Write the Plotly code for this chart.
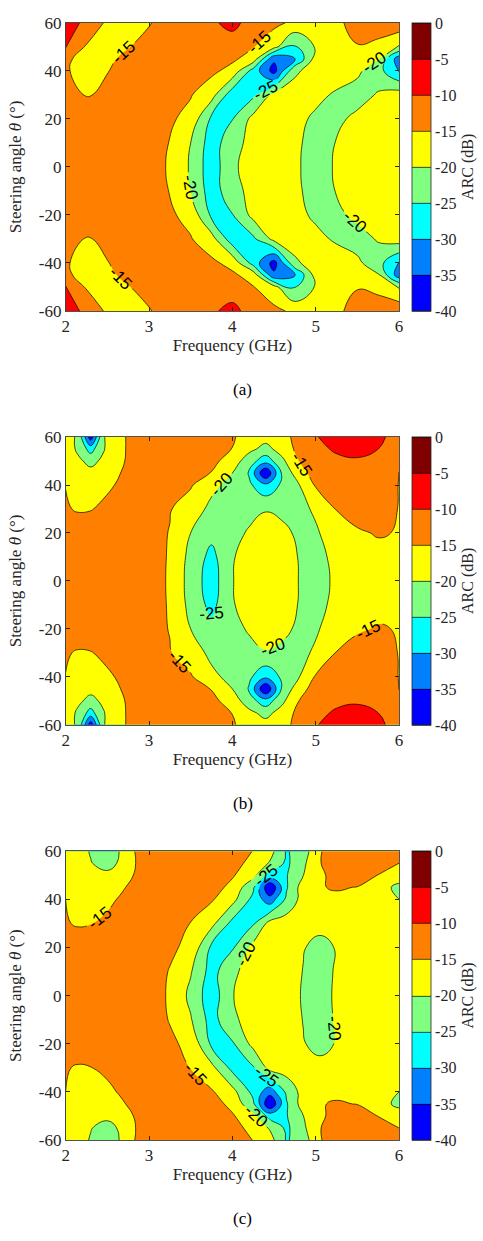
import plotly.graph_objects as go

# ---------------- data ----------------
FREQ_A = [2.0, 2.25, 2.5, 2.75, 3.0, 3.25, 3.5, 3.75, 4.0, 4.25, 4.5, 4.75, 5.0, 5.25, 5.5, 5.75, 6.0]
THETA_A = [-60, -50, -45, -40, -30, -20, -10, 0, 10, 20, 30, 40, 45, 50, 60]
ARC_A = [
    [-7, -11.5, -15.8, -16.5, -15.3, -13, -11.5, -10.5, -9, -11.5, -13.8, -16, -17.5, -15.8, -13.5, -13, -11.5],
    [-9.6, -15.5, -17, -15.2, -13.5, -12, -11, -11, -11.8, -14.8, -18.5, -26, -19.5, -16, -15.2, -16, -20.5],
    [-14.4, -16.2, -15.8, -14, -12.5, -11.5, -11.5, -12.2, -14.2, -17, -34, -30.5, -18, -16.5, -17, -19.5, -33],
    [-14.6, -16.5, -15.1, -13.5, -12.5, -12.3, -12.8, -14, -16.5, -27, -37, -21, -17.5, -17, -19, -23, -30.5],
    [-13.5, -15.2, -14.5, -13.5, -13.5, -14, -14.7, -18, -28, -26, -18.5, -17.5, -18.5, -20.8, -22.2, -19.5, -17.5],
    [-12.5, -13, -13.3, -13.5, -13.8, -14.3, -16.5, -26, -25.2, -18.5, -17.2, -18.3, -21, -21.2, -18.7, -17.5, -17],
    [-12.2, -12.5, -12.8, -13.2, -14, -15.1, -20, -27.5, -22, -18.2, -17.5, -19, -21.8, -19.8, -18, -17.2, -17],
    [-12, -12.3, -12.6, -13, -13.8, -15.3, -20.6, -28, -20.8, -18, -17.5, -19.2, -22, -19.5, -18, -17.2, -17],
    [-12.2, -12.5, -12.8, -13.2, -14, -15.1, -20, -27.5, -22, -18.2, -17.5, -19, -21.8, -19.8, -18, -17.2, -17],
    [-12.5, -13, -13.3, -13.5, -13.8, -14.3, -16.5, -26, -25.2, -18.5, -17.2, -18.3, -21, -21.2, -18.7, -17.5, -17],
    [-13.5, -15.2, -14.5, -13.5, -13.5, -14, -14.7, -18, -28, -26, -18.5, -17.5, -18.5, -20.8, -22.2, -19.5, -17.5],
    [-14.6, -16.5, -15.1, -13.5, -12.5, -12.3, -12.8, -14, -16.5, -27, -37, -21, -17.5, -17, -19, -23, -30.5],
    [-14.4, -16.2, -15.8, -14, -12.5, -11.5, -11.5, -12.2, -14.2, -17, -34, -30.5, -18, -16.5, -17, -19.5, -33],
    [-9.6, -15.5, -17, -15.2, -13.5, -12, -11, -11, -11.8, -14.8, -18.5, -26, -19.5, -16, -15.2, -16, -20.5],
    [-7, -11.5, -15.8, -16.5, -15.3, -13, -11.5, -10.5, -9, -11.5, -13.8, -16, -17.5, -15.8, -13.5, -13, -11.5],
]

FREQ_B = [2.0, 2.15, 2.3, 2.45, 2.6, 2.8, 3.0, 3.25, 3.5, 3.75, 4.0, 4.2, 4.4, 4.6, 4.8, 5.0, 5.25, 5.5, 5.75, 6.0]
THETA_B = [-60, -55, -50, -45, -40, -30, -20, -10, 0, 10, 20, 30, 40, 45, 50, 55, 60]
ARC_B = [
    [-17.5, -21, -38, -20.5, -16.5, -14, -12.8, -12, -11.8, -12.5, -14.5, -17, -18.3, -16.5, -13.5, -10.3, -8, -7.5, -9.2, -11.5],
    [-17, -21, -27, -20.5, -16.5, -14, -12.5, -11.5, -11.3, -12.5, -15.1, -18.8, -21.5, -18, -13.5, -11, -9.5, -9, -10, -13.5],
    [-16.5, -19, -21.5, -19, -16.2, -14, -12.5, -11.5, -11.7, -13.5, -17.5, -22.5, -28, -21, -15, -12, -10.8, -10.4, -11.2, -14.5],
    [-16, -17.5, -18.5, -17.5, -15.5, -13.8, -12.3, -11.8, -12.8, -15.2, -20, -25.5, -40, -24, -17, -13, -11.5, -11, -12, -15.05],
    [-15.1, -16, -16.5, -16, -14.9, -13.5, -12.5, -12.5, -14.5, -18.8, -21.5, -24, -29, -24, -20.2, -14.5, -12.5, -11.8, -12.8, -15.1],
    [-14.6, -15.4, -15.2, -14.3, -13.3, -12.8, -13, -14.7, -17.5, -21.2, -21.8, -21.5, -20.2, -20.8, -21.3, -19.3, -14.8, -13.3, -13.8, -15.1],
    [-12.3, -12.5, -12.5, -12.3, -12.2, -12.3, -13.2, -15.2, -20, -23.5, -21.5, -19.5, -18.6, -19.2, -20.6, -20.6, -17.5, -15.5, -14.7, -15.2],
    [-12, -12, -12, -11.9, -11.9, -12.1, -13, -15.4, -21.5, -26.5, -20.4, -18, -17.2, -18, -20.2, -21.2, -19, -17.2, -16.2, -15.8],
    [-12, -12, -12, -11.8, -11.8, -12, -13, -15.5, -22, -27.5, -20.2, -17.8, -17, -17.8, -20.1, -21.5, -19.3, -17.5, -16.5, -16],
    [-12, -12, -12, -11.9, -11.9, -12.1, -13, -15.4, -21.5, -26.5, -20.4, -18, -17.2, -18, -20.2, -21.2, -19, -17.2, -16.2, -15.8],
    [-12.3, -12.5, -12.5, -12.3, -12.2, -12.3, -13.2, -15.2, -20, -23.5, -21.5, -19.5, -18.6, -19.2, -20.6, -20.6, -17.5, -15.5, -14.7, -15.2],
    [-14.6, -15.4, -15.2, -14.3, -13.3, -12.8, -13, -14.7, -17.5, -21.2, -21.8, -21.5, -20.2, -20.8, -21.3, -19.3, -14.8, -13.3, -13.8, -15.1],
    [-15.1, -16, -16.5, -16, -14.9, -13.5, -12.5, -12.5, -14.5, -18.8, -21.5, -24, -29, -24, -20.2, -14.5, -12.5, -11.8, -12.8, -15.1],
    [-16, -17.5, -18.5, -17.5, -15.5, -13.8, -12.3, -11.8, -12.8, -15.2, -20, -25.5, -40, -24, -17, -13, -11.5, -11, -12, -15.05],
    [-16.5, -19, -21.5, -19, -16.2, -14, -12.5, -11.5, -11.7, -13.5, -17.5, -22.5, -28, -21, -15, -12, -10.8, -10.4, -11.2, -14.5],
    [-17, -21, -27, -20.5, -16.5, -14, -12.5, -11.5, -11.3, -12.5, -15.1, -18.8, -21.5, -18, -13.5, -11, -9.5, -9, -10, -13.5],
    [-17.5, -21, -38, -20.5, -16.5, -14, -12.8, -12, -11.8, -12.5, -14.5, -17, -18.3, -16.5, -13.5, -10.3, -8, -7.5, -9.2, -11.5],
]

FREQ_C = [2.0, 2.15, 2.3, 2.5, 2.65, 2.8, 3.0, 3.25, 3.5, 3.75, 4.0, 4.25, 4.45, 4.65, 4.85, 5.05, 5.25, 5.5, 5.75, 6.0]
THETA_C = [-60, -55, -50, -45, -40, -30, -20, -10, 0, 10, 20, 30, 40, 45, 50, 55, 60]
ARC_C = [
    [-17.5, -18.5, -20.3, -23.5, -19.8, -15.2, -13.8, -12.5, -11.8, -11.8, -13, -15.1, -18, -25.5, -22.5, -15.5, -11.5, -10.8, -11, -12.5],
    [-17, -18.5, -19.8, -21.5, -19.5, -15.3, -13.8, -12.5, -11.7, -11.8, -13.5, -16.3, -20.5, -26, -21, -15.2, -12.5, -12, -13, -15],
    [-16.5, -18, -19.3, -19, -17, -15.1, -13.8, -12.5, -11.8, -12.2, -14.5, -18.5, -27, -25.3, -20.1, -15.8, -13.5, -13.3, -15.1, -17],
    [-16, -17, -17.5, -17, -15.6, -14.3, -13.2, -12.3, -12, -13, -16.3, -24, -40, -25.5, -17.5, -15.2, -14.7, -15.1, -17.5, -21.5],
    [-15, -16, -16.6, -15.8, -14.7, -13.8, -13, -12.5, -12.9, -14.5, -18.3, -26.5, -33, -24, -18, -16.5, -15.7, -16, -17.5, -20],
    [-14.7, -15.4, -15.1, -14.2, -13.5, -13, -12.8, -13.3, -15.1, -18.5, -26.5, -25.6, -18.3, -17.5, -17.8, -19, -18.3, -17.8, -17.3, -17.5],
    [-12.5, -12.6, -12.6, -12.5, -12.4, -12.5, -13, -14.3, -16, -26, -25.6, -18.5, -17.5, -18, -19.8, -21, -19.8, -17.8, -17, -16.6],
    [-12.2, -12.2, -12.2, -12.2, -12.2, -12.4, -13.1, -15.2, -19.6, -27, -21, -17.8, -17.5, -18.3, -20.1, -21.8, -19.5, -17.6, -16.9, -16.5],
    [-12, -12, -12, -12, -12, -12.2, -13, -15.5, -21.2, -28, -20.2, -17.5, -17.5, -18.5, -20.3, -22, -19.2, -17.5, -16.8, -16.5],
    [-12.2, -12.2, -12.2, -12.2, -12.2, -12.4, -13.1, -15.2, -19.6, -27, -21, -17.8, -17.5, -18.3, -20.1, -21.8, -19.5, -17.6, -16.9, -16.5],
    [-12.5, -12.6, -12.6, -12.5, -12.4, -12.5, -13, -14.3, -16, -26, -25.6, -18.5, -17.5, -18, -19.8, -21, -19.8, -17.8, -17, -16.6],
    [-14.7, -15.4, -15.1, -14.2, -13.5, -13, -12.8, -13.3, -15.1, -18.5, -26.5, -25.6, -18.3, -17.5, -17.8, -19, -18.3, -17.8, -17.3, -17.5],
    [-15, -16, -16.6, -15.8, -14.7, -13.8, -13, -12.5, -12.9, -14.5, -18.3, -26.5, -33, -24, -18, -16.5, -15.7, -16, -17.5, -20],
    [-16, -17, -17.5, -17, -15.6, -14.3, -13.2, -12.3, -12, -13, -16.3, -24, -40, -25.5, -17.5, -15.2, -14.7, -15.1, -17.5, -21.5],
    [-16.5, -18, -19.3, -19, -17, -15.1, -13.8, -12.5, -11.8, -12.2, -14.5, -18.5, -27, -25.3, -20.1, -15.8, -13.5, -13.3, -15.1, -17],
    [-17, -18.5, -19.8, -21.5, -19.5, -15.3, -13.8, -12.5, -11.7, -11.8, -13.5, -16.3, -20.5, -26, -21, -15.2, -12.5, -12, -13, -15],
    [-17.5, -18.5, -20.3, -23.5, -19.8, -15.2, -13.8, -12.5, -11.8, -11.8, -13, -15.1, -18, -25.5, -22.5, -15.5, -11.5, -10.8, -11, -12.5],
]

X_TICKS = [2, 3, 4, 5, 6]
Y_TICKS = [-60, -40, -20, 0, 20, 40, 60]
Y_TICKTEXT = ["-60", "-40", "-20", "0", "20", "40", "60"]
CB_TICKS = [0, -5, -10, -15, -20, -25, -30, -35, -40]
CB_TICKTEXT = ["0", "-5", "-10", "-15", "-20", "-25", "-30", "-35", "-40"]
CAPTIONS = ["(a)", "(b)", "(c)"]

# jet(8) bands, from -40 (bottom) to 0 (top)
JET8 = ["#0000ff", "#0080ff", "#00ffff", "#80ff80", "#ffff00", "#ff8000", "#ff0000", "#800000"]

# ---------------- figure ----------------
W, H = 483, 1241
SERIF = "Liberation Serif"
SANS = "Liberation Sans"
AXC = "#262626"

colorscale = []
for i, c in enumerate(JET8):
    colorscale.append([i / 8, c])
    colorscale.append([(i + 1) / 8, c])

x_dom = [62.7 / W, 401.7 / W]
panels_px = [(14.0, 306.7), (434.7, 727.0), (855.3, 1148.6)]
caption_px = [386, 807, 1228]
data = [(FREQ_A, THETA_A, ARC_A), (FREQ_B, THETA_B, ARC_B), (FREQ_C, THETA_C, ARC_C)]

fig = go.Figure()
layout = dict(
    width=W, height=H,
    margin=dict(l=0, r=0, t=0, b=0),
    paper_bgcolor="white", plot_bgcolor="white",
    showlegend=False,
    annotations=[],
)

for k, ((fx, ty, zz), (top, bot)) in enumerate(zip(data, panels_px)):
    sfx = "" if k == 0 else str(k + 1)
    y_dom = [1 - bot / H, 1 - top / H]
    fig.add_trace(go.Contour(
        x=fx, y=ty, z=zz,
        xaxis="x" + sfx, yaxis="y" + sfx,
        zmin=-40, zmax=0,
        colorscale=colorscale,
        contours=dict(start=-40, end=0, size=5, coloring="fill", showlabels=True,
                      labelfont=dict(family=SANS, size=17, color="black")),
        line=dict(color="black", width=0.7, smoothing=1.3),
        hoverinfo="skip",
        colorbar=dict(
            x=415 / W, xanchor="left", xpad=0, ypad=0,
            y=(y_dom[0] + y_dom[1]) / 2, yanchor="middle",
            len=y_dom[1] - y_dom[0], lenmode="fraction",
            thickness=19, thicknessmode="pixels",
            outlinewidth=0.8, outlinecolor=AXC,
            tickvals=CB_TICKS, ticktext=CB_TICKTEXT, ticks="",
            tickfont=dict(family=SERIF, size=16, color=AXC),
        ),
    ))
    layout["xaxis" + sfx] = dict(
        domain=x_dom, anchor="y" + sfx, range=[2, 6],
        tickvals=X_TICKS, ticks="inside", ticklen=4, tickcolor=AXC,
        showline=True, linecolor=AXC, linewidth=0.8, mirror="ticks",
        showgrid=False, zeroline=False,
        tickfont=dict(family=SERIF, size=17, color=AXC),
        title=dict(text="Frequency (GHz)", font=dict(family=SERIF, size=17, color=AXC), standoff=0),
    )
    layout["yaxis" + sfx] = dict(
        domain=y_dom, anchor="x" + sfx, range=[-60, 60],
        tickvals=Y_TICKS, ticktext=Y_TICKTEXT, ticks="inside", ticklen=4, tickcolor=AXC,
        showline=True, linecolor=AXC, linewidth=0.8, mirror="ticks",
        showgrid=False, zeroline=False,
        tickfont=dict(family=SERIF, size=17, color=AXC),
        title=dict(text="Steering angle <i>θ</i> (°)", font=dict(family=SERIF, size=17, color=AXC), standoff=12),
    )
    layout["annotations"].append(dict(
        text=CAPTIONS[k], xref="paper", yref="paper", x=243 / W, y=1 - caption_px[k] / H,
        xanchor="center", yanchor="middle", showarrow=False,
        font=dict(family=SERIF, size=17, color="black"),
    ))
    layout["annotations"].append(dict(
        text="ARC (dB)", xref="paper", yref="paper", x=483 / W, y=(y_dom[0] + y_dom[1]) / 2,
        xanchor="right", yanchor="middle", showarrow=False, textangle=-90,
        font=dict(family=SERIF, size=16, color=AXC),
    ))

fig.update_layout(**layout)
fig.write_html(
    "out.html",
    config={"displayModeBar": False, "staticPlot": True},
    post_script="document.body.style.margin='0';document.body.style.padding='0';document.body.style.overflow='hidden';",
)
